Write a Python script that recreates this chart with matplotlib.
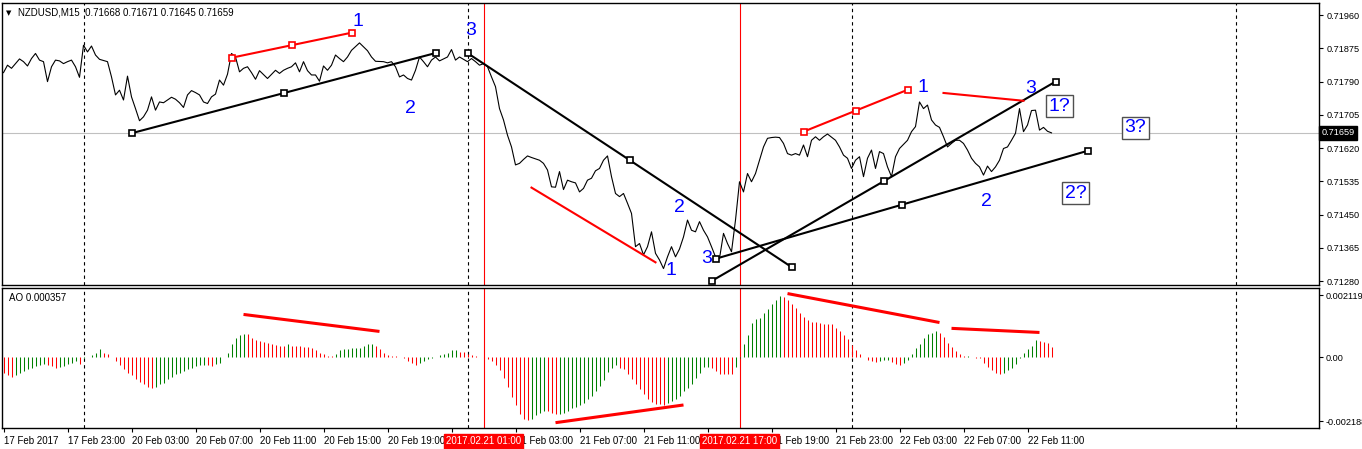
import numpy as np
import matplotlib.pyplot as plt
import matplotlib.transforms as mtransforms

plt.rcParams['font.family'] = ['Liberation Sans', 'DejaVu Sans']

# NZDUSD M15, bar 0 = 17 Feb 2017 19:00 (weekend bars skipped)
close_bar = [0, 1, 2, 3, 4, 5, 6, 7, 8, 9, 10, 11, 12, 13, 14, 15, 16, 17, 18, 19,
             20, 21, 22, 23, 24, 26, 27, 28, 29, 30, 31, 32, 33, 34, 35, 36, 37, 38, 39, 40,
             41, 42, 43, 44, 45, 46, 47, 48, 49, 50, 51, 52, 53, 54, 55, 56, 57, 58, 59, 60,
             61, 62, 63, 64, 65, 66, 68, 69, 70, 71, 72, 73, 74, 75, 76, 77, 78, 79, 80, 81,
             82, 83, 84, 85, 86, 87, 89, 90, 91, 92, 93, 95, 96, 97, 98, 99, 100, 101, 102, 103,
             104, 105, 106, 107, 108, 109, 111, 112, 113, 114, 116, 117, 118, 119, 120, 121, 122, 123, 124, 125,
             126, 127, 128, 129, 130, 131, 132, 134, 135, 136, 137, 138, 139, 140, 141, 142, 143, 144, 145, 146,
             147, 148, 149, 150, 151, 152, 153, 154, 155, 156, 157, 158, 159, 160, 161, 162, 163, 164, 165, 166,
             167, 168, 169, 170, 171, 172, 173, 174, 175, 176, 177, 178, 179, 180, 181, 182, 183, 184, 185, 186,
             187, 188, 189, 190, 191, 192, 193, 194, 195, 196, 197, 198, 199, 200, 201, 202, 203, 204, 205, 206,
             208, 209, 210, 211, 212, 213, 214, 215, 216, 217, 218, 219, 220, 221, 222, 223, 224, 226, 227, 228,
             229, 230, 231, 232, 233, 234, 235, 236, 237, 238, 239, 240, 241, 242, 243, 244, 245, 246, 247, 248,
             249, 250, 251, 252, 253, 254, 255, 256, 257, 258, 259, 260, 261, 262]
close = [0.71813, 0.71832, 0.71824, 0.71836, 0.71848, 0.71841, 0.71830, 0.71849, 0.71862, 0.71845,
         0.71841, 0.71790, 0.71828, 0.71845, 0.71843, 0.71836, 0.71841, 0.71845, 0.71828, 0.71801,
         0.71883, 0.71866, 0.71881, 0.71858, 0.71847, 0.71841, 0.71802, 0.71756, 0.71768, 0.71743,
         0.71804, 0.71751, 0.71721, 0.71690, 0.71700, 0.71717, 0.71751, 0.71717, 0.71738, 0.71736,
         0.71743, 0.71750, 0.71745, 0.71736, 0.71724, 0.71756, 0.71767, 0.71762, 0.71756, 0.71738,
         0.71734, 0.71751, 0.71758, 0.71794, 0.71781, 0.71809, 0.71862, 0.71853, 0.71815, 0.71824,
         0.71828, 0.71813, 0.71796, 0.71818, 0.71808, 0.71798, 0.71819, 0.71811, 0.71819, 0.71824,
         0.71828, 0.71838, 0.71815, 0.71841, 0.71818, 0.71807, 0.71807, 0.71791, 0.71830, 0.71819,
         0.71832, 0.71858, 0.71849, 0.71841, 0.71853, 0.71870, 0.71889, 0.71879, 0.71869, 0.71853,
         0.71842, 0.71841, 0.71838, 0.71841, 0.71828, 0.71802, 0.71807, 0.71798, 0.71794, 0.71819,
         0.71853, 0.71841, 0.71828, 0.71845, 0.71853, 0.71843, 0.71853, 0.71872, 0.71845, 0.71853,
         0.71841, 0.71849, 0.71841, 0.71832, 0.71836, 0.71828, 0.71802, 0.71777, 0.71721, 0.71692,
         0.71653, 0.71623, 0.71577, 0.71581, 0.71591, 0.71600, 0.71596, 0.71589, 0.71581, 0.71564,
         0.71521, 0.71520, 0.71560, 0.71514, 0.71538, 0.71534, 0.71531, 0.71508, 0.71517, 0.71538,
         0.71543, 0.71562, 0.71568, 0.71589, 0.71600, 0.71547, 0.71504, 0.71496, 0.71504, 0.71479,
         0.71453, 0.71368, 0.71376, 0.71347, 0.71368, 0.71406, 0.71351, 0.71334, 0.71312, 0.71342,
         0.71368, 0.71342, 0.71362, 0.71393, 0.71436, 0.71410, 0.71406, 0.71432, 0.71410, 0.71393,
         0.71368, 0.71342, 0.71338, 0.71402, 0.71376, 0.71355, 0.71436, 0.71534, 0.71508, 0.71555,
         0.71534, 0.71555, 0.71589, 0.71623, 0.71645, 0.71647, 0.71648, 0.71647, 0.71632, 0.71606,
         0.71602, 0.71606, 0.71602, 0.71628, 0.71598, 0.71640, 0.71649, 0.71640, 0.71649, 0.71656,
         0.71640, 0.71623, 0.71602, 0.71594, 0.71568, 0.71589, 0.71598, 0.71547, 0.71594, 0.71615,
         0.71568, 0.71611, 0.71606, 0.71572, 0.71547, 0.71598, 0.71619, 0.71640, 0.71662, 0.71675,
         0.71738, 0.71721, 0.71730, 0.71692, 0.71679, 0.71673, 0.71649, 0.71623, 0.71632, 0.71640,
         0.71640, 0.71632, 0.71615, 0.71594, 0.71581, 0.71572, 0.71551, 0.71574, 0.71560, 0.71572,
         0.71589, 0.71619, 0.71623, 0.71640, 0.71658, 0.71721, 0.71662, 0.71679, 0.71716, 0.71717,
         0.71666, 0.71673, 0.71663, 0.71659]

# Awesome Oscillator, one value per bar, x 1e-3
ao = [-0.56, -0.62, -0.67, -0.62, -0.56, -0.48, -0.42, -0.36, -0.31, -0.27,
      -0.25, -0.27, -0.31, -0.36, -0.35, -0.32, -0.25, -0.19, -0.14, -0.23,
      -0.02, 0.01, 0.07, 0.15, 0.28, 0.15, 0.11, -0.01, -0.14, -0.27,
      -0.42, -0.54, -0.62, -0.76, -0.84, -0.93, -1.03, -1.07, -1.03, -0.93,
      -0.88, -0.76, -0.68, -0.59, -0.54, -0.48, -0.41, -0.36, -0.32, -0.28,
      -0.27, -0.28, -0.29, -0.23, -0.19, 0.01, 0.15, 0.46, 0.66, 0.74,
      0.80, 0.79, 0.66, 0.57, 0.55, 0.52, 0.48, 0.43, 0.41, 0.39,
      0.38, 0.43, 0.39, 0.385, 0.38, 0.35, 0.34, 0.32, 0.23, 0.15,
      0.09, 0.05, 0.04, 0.11, 0.23, 0.26, 0.265, 0.30, 0.32, 0.325,
      0.39, 0.43, 0.435, 0.36, 0.28, 0.15, 0.08, 0.05, 0.02, 0.01,
      -0.02, -0.14, -0.19, -0.27, -0.19, -0.14, -0.07, -0.03, 0.0, 0.07,
      0.11, 0.15, 0.23, 0.235, 0.18, 0.17, 0.11, 0.07, 0.03, 0.0,
      -0.05, -0.08, -0.14, -0.27, -0.46, -0.71, -1.02, -1.36, -1.65, -1.94,
      -2.13, -2.16, -2.12, -1.99, -1.90, -1.85, -1.86, -1.90, -1.96, -1.94,
      -1.91, -1.85, -1.75, -1.71, -1.64, -1.56, -1.45, -1.33, -1.16, -1.00,
      -0.77, -0.52, -0.36, -0.28, -0.36, -0.42, -0.59, -0.76, -0.93, -1.10,
      -1.28, -1.45, -1.54, -1.59, -1.62, -1.63, -1.56, -1.50, -1.45, -1.33,
      -1.16, -1.05, -0.91, -0.71, -0.54, -0.34, -0.33, -0.36, -0.48, -0.57,
      -0.575, -0.58, -0.585, -0.34, -0.05, 0.46, 0.77, 1.17, 1.29, 1.34,
      1.51, 1.63, 1.82, 1.96, 2.10, 2.05, 1.96, 1.82, 1.69, 1.52,
      1.38, 1.28, 1.21, 1.20, 1.17, 1.14, 1.13, 1.12, 1.00, 0.89,
      0.75, 0.60, 0.41, 0.23, 0.09, 0.01, -0.11, -0.14, -0.18, -0.14,
      -0.11, -0.09, -0.18, -0.25, -0.28, -0.19, -0.10, 0.09, 0.30, 0.46,
      0.66, 0.80, 0.83, 0.89, 0.83, 0.68, 0.49, 0.34, 0.21, 0.11,
      0.03, 0.035, 0.0, -0.02, -0.05, -0.19, -0.33, -0.46, -0.54, -0.59,
      -0.54, -0.46, -0.36, -0.25, -0.02, 0.15, 0.26, 0.38, 0.59, 0.55,
      0.52, 0.49, 0.357]

tick_bars = list(range(0, 257, 16))
tick_labels = ["17 Feb 2017", "17 Feb 23:00", "20 Feb 03:00", "20 Feb 07:00", "20 Feb 11:00",
               "20 Feb 15:00", "20 Feb 19:00", "20 Feb 23:00", "21 Feb 03:00", "21 Feb 07:00",
               "21 Feb 11:00", "21 Feb 15:00", "21 Feb 19:00", "21 Feb 23:00", "22 Feb 03:00",
               "22 Feb 07:00", "22 Feb 11:00"]
price_ticks = [0.71960, 0.71875, 0.71790, 0.71705, 0.71620, 0.71535, 0.71450, 0.71365, 0.71280]
last_price = 0.71659
ao_ticks = [0.002119, 0.0, -0.002188]
ao_last = 0.000357

day_breaks = [20, 116, 212, 308]
marked_bars = [120, 184]
marked_text = ["2017.02.21 01:00", "2017.02.21 17:00"]

# trendlines (bar, price)
black_lines = [((32, 0.71658), (108, 0.71863)),
               ((116, 0.71863), (197, 0.71316)),
               ((177, 0.71280), (263, 0.71790)),
               ((178, 0.71337), (271, 0.71613))]
red_marked = [((57, 0.71851), (87, 0.71915)),
              ((200, 0.71662), (226, 0.71769))]
red_plain = [((132, 0.71519), (163, 0.71328)),
             ((235, 0.71761), (255, 0.71741))]
ao_lines = [((60, 1.456), (94, 0.875)),
            ((138, -2.245), (170, -1.64)),
            ((196, 2.17), (234, 1.18)),
            ((237, 0.98), (259, 0.84))]

wave_labels = [(88.6, 0.71943, "1"), (116.8, 0.71920, "3"), (101.8, 0.71722, "2"),
               (168.9, 0.71467, "2"), (175.8, 0.71338, "3"), (166.8, 0.71306, "1"),
               (229.8, 0.71775, "1"), (256.8, 0.71773, "3"), (245.8, 0.71483, "2")]
boxed_labels = [(264, 0.71727, "1?"), (283, 0.71672, "3?"), (268, 0.71505, "2?")]

W, H = 1362, 449
fig = plt.figure(figsize=(W / 100, H / 100), dpi=100)
L, R = 2, 1319
ax = fig.add_axes([L / W, 1 - 285 / H, (R - L) / W, (285 - 3) / H])
ax2 = fig.add_axes([L / W, 1 - 428 / H, (R - L) / W, (428 - 288) / H], sharex=ax)

fs = 7
fy = 6.6
xmin, xmax = -0.375, 328.875

# ---------- price panel
ax.plot(close_bar, close, color='black', lw=0.8, zorder=3)
ax.axhline(last_price, color='#c0c0c0', lw=0.8, zorder=1)

for a in (ax, ax2):
    for b in day_breaks:
        a.axvline(b, color='black', lw=0.8, ls=(0, (3, 3)), zorder=1)
    for b in marked_bars:
        a.axvline(b, color='#ff0000', lw=0.8, zorder=1)

for (x0, y0), (x1, y1) in black_lines:
    ax.plot([x0, (x0 + x1) / 2, x1], [y0, (y0 + y1) / 2, y1], color='black', lw=1.5,
            marker='s', ms=4, mfc='white', mec='black', mew=1.2, zorder=4)
for (x0, y0), (x1, y1) in red_marked:
    ax.plot([x0, (x0 + x1) / 2, x1], [y0, (y0 + y1) / 2, y1], color='#ff0000', lw=1.5,
            marker='s', ms=4, mfc='white', mec='#ff0000', mew=1.2, zorder=4)
for (x0, y0), (x1, y1) in red_plain:
    ax.plot([x0, x1], [y0, y1], color='#ff0000', lw=1.5, zorder=4)

for x, y, t in wave_labels:
    ax.text(x, y, t, color='#0000ff', fontsize=14, ha='center', va='center', zorder=6)
for x, y, t in boxed_labels:
    ax.text(x, y, t, color='#0000ff', fontsize=14, ha='center', va='center', zorder=6,
            bbox=dict(boxstyle='square,pad=0.12', fc='white', ec='#505050', lw=1))

ax.set_xlim(xmin, xmax)
ax.set_ylim(0.71270, 0.71991)
ax.yaxis.tick_right()
ax.set_yticks(price_ticks)
ax.set_yticklabels([f"{p:.5f}" for p in price_ticks], fontsize=fy)
ax.tick_params(axis='y', direction='out', length=3, pad=2.5)
ax.tick_params(axis='x', bottom=False, labelbottom=False)

tr = mtransforms.blended_transform_factory(ax.transAxes, ax.transData)
ax.text(1.002, last_price, f"{last_price:.5f}", transform=tr, color='white', fontsize=fy,
        ha='left', va='center', clip_on=False, zorder=10,
        bbox=dict(boxstyle='square,pad=0.25', fc='black', ec='black'))

ax.text(0.003, 0.965, "\u25bc", transform=ax.transAxes, fontsize=5, va='center', ha='left',
        family=['DejaVu Sans'])
ax.text(0.0125, 0.965, "NZDUSD,M15  0.71668 0.71671 0.71645 0.71659", transform=ax.transAxes,
        fontsize=fs, va='center', ha='left')

# ---------- AO panel
ao_v = np.array(ao) / 1000.0
bars = np.arange(len(ao_v))
prev = np.concatenate([[ao_v[0]], ao_v[:-1]])
cols = np.where(ao_v > prev, '#008000', '#ff0000')
ax2.vlines(bars, 0, ao_v, colors=cols, lw=0.75, zorder=3)

for (x0, y0), (x1, y1) in ao_lines:
    ax2.plot([x0, x1], [y0 / 1000, y1 / 1000], color='#ff0000', lw=2.2, zorder=4,
             solid_capstyle='butt')

ax2.set_ylim(-0.002427, 0.00236)
ax2.yaxis.tick_right()
ax2.set_yticks(ao_ticks)
ax2.set_yticklabels(["0.002119", "0.00", "-0.002188"], fontsize=fy)
ax2.tick_params(axis='y', direction='out', length=3, pad=2)
ax2.text(0.005, 0.93, f"AO {ao_last:.6f}", transform=ax2.transAxes, fontsize=fs,
         ha='left', va='center')

ax2.set_xticks(tick_bars)
ax2.set_xticklabels(tick_labels, fontsize=fs, ha='left')
ax2.tick_params(axis='x', direction='out', length=3, pad=3)

trx = mtransforms.blended_transform_factory(ax2.transData, ax2.transAxes)
for b, t in zip(marked_bars, marked_text):
    ax2.text(b, -0.06, t, transform=trx, color='white', fontsize=fs, ha='center', va='top',
             clip_on=False, zorder=10,
             bbox=dict(boxstyle='square,pad=0.25', fc='#ff0000', ec='#ff0000'))

for a in (ax, ax2):
    for s in a.spines.values():
        s.set_color('black')
        s.set_linewidth(1)

fig.savefig("out.png", dpi=100)
